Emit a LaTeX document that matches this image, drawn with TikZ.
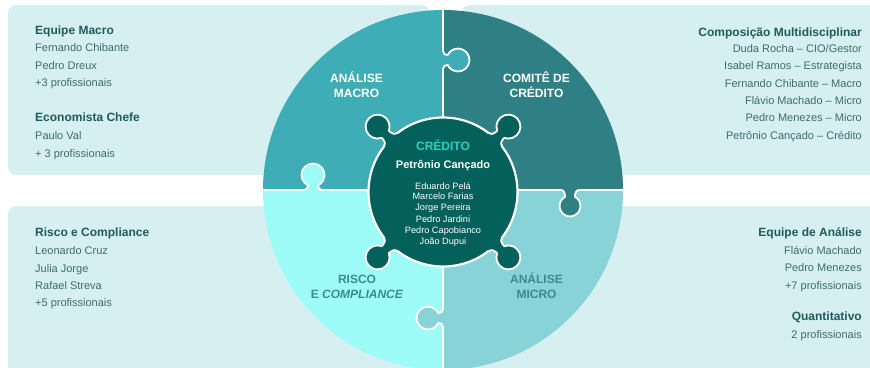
\documentclass[tikz,border=0pt]{standalone}
\usepackage{fontspec}
\setmainfont{Liberation Sans}
\definecolor{panelc}{HTML}{D6F0F2}
\definecolor{macroc}{HTML}{3EADB5}
\definecolor{comitec}{HTML}{2E8085}
\definecolor{riscoc}{HTML}{9EFCF8}
\definecolor{microc}{HTML}{88D3D8}
\definecolor{centerc}{HTML}{03605A}
\definecolor{credc}{HTML}{2ECFC3}
\definecolor{labc}{HTML}{3A8A90}
\definecolor{headc}{HTML}{1F5B5C}
\definecolor{bodyc}{HTML}{3D6C6E}
% knob: #1 x, #2 y (pixel), #3 #4 tangent (canvas), #5 #6 direction (canvas), #7 colour, #8 lobe distance, #9 lobe radius
\newcommand\knob[9]{%
  \begin{scope}[shift={(#1pt,-#2pt)}, x={(#3pt,#4pt)}, y={(#5pt,#6pt)}]
    \pgfmathsetmacro\kq{sqrt(#9*#9-25)}
    \pgfmathsetmacro\kb{#8-\kq}
    \pgfmathsetmacro\kh{\kb/2}
    \pgfmathsetmacro\ka{180+atan(\kq/5)}
    \pgfmathsetmacro\ke{-atan(\kq/5)}
    \fill[#7] (-9,-1.8) -- (-9,0) .. controls (-6,0) and (-5,\kh) .. (-5,\kb)
      arc[start angle=\ka, end angle=\ke, radius=#9]
      .. controls (5,\kh) and (6,0) .. (9,0) -- (9,-1.8) -- cycle;
    \draw[knobline] (-9,0) .. controls (-6,0) and (-5,\kh) .. (-5,\kb)
      arc[start angle=\ka, end angle=\ke, radius=#9]
      .. controls (5,\kh) and (6,0) .. (9,0);
  \end{scope}}
\begin{document}
\begin{tikzpicture}[x=1pt,y=-1pt,
  seam/.style={draw=white, line width=1.8pt},
  knobline/.style={draw=white, line width=1.8pt, line cap=round},
  hd/.style={inner sep=0pt, font=\fontsize{12}{14}\selectfont\bfseries, text=headc},
  bd/.style={inner sep=0pt, font=\fontsize{11}{13}\selectfont, text=bodyc},
  qlab/.style={inner sep=0pt, font=\fontsize{12}{15}\selectfont\bfseries, anchor=base},
  cname/.style={inner sep=0pt, font=\fontsize{9.2}{11}\selectfont, text=white, anchor=base}]
\useasboundingbox (0,0) rectangle (870,367);
% panels
\fill[panelc, rounded corners=8pt] (8,5) rectangle (430,175);
\fill[panelc, rounded corners=8pt] (462,5) rectangle (884,175);
\fill[panelc, rounded corners=8pt] (8,206) rectangle (440,380);
\fill[panelc, rounded corners=8pt] (446,206) rectangle (884,380);
% quadrants
\fill[macroc] (443,190) -- (263,190) arc[start angle=180, end angle=270, radius=180] -- cycle;
\fill[comitec] (443,190) -- (443,10) arc[start angle=270, end angle=360, radius=180] -- cycle;
\fill[microc] (443,190) -- (623,190) arc[start angle=0, end angle=90, radius=180] -- cycle;
\fill[riscoc] (443,190) -- (443,370) arc[start angle=90, end angle=180, radius=180] -- cycle;
% seams
\draw[seam] (263,190) -- (623,190);
\draw[seam] (443,10) -- (443,370);
% quadrant knobs
\knob{443}{60}{0}{-1}{1}{0}{macroc}{15}{11.5}
\knob{313}{190}{1}{0}{0}{1}{riscoc}{15}{11.5}
\knob{570}{190}{1}{0}{0}{-1}{comitec}{16}{10.5}
\knob{443}{318}{0}{-1}{-1}{0}{microc}{15}{11.5}
% centre piece
\fill[centerc] (443,192) circle[radius=74.5];
\draw[draw=white, line width=2.2pt] (443,192) circle[radius=74.5];
\knob{390.32}{139.32}{0.7071}{0.7071}{-0.7071}{0.7071}{centerc}{18}{12}
\knob{495.68}{139.32}{0.7071}{-0.7071}{0.7071}{0.7071}{centerc}{18}{12}
\knob{390.32}{244.68}{-0.7071}{0.7071}{-0.7071}{-0.7071}{centerc}{18}{12}
\knob{495.68}{244.68}{-0.7071}{-0.7071}{0.7071}{-0.7071}{centerc}{18}{12}
% quadrant labels
\node[qlab, text=white] (am1) at (356.5,82.3) {ANÁLISE};
\node[qlab, text=white] (am2) at (356.5,97.3) {MACRO};
\node[qlab, text=white] (cc1) at (536.5,82.3) {COMITÊ DE};
\node[qlab, text=white] (cc2) at (536.5,97.3) {CRÉDITO};
\node[qlab, text=labc] (rc1) at (357,283.3) {RISCO};
\node[qlab, text=labc] (rc2) at (357,298.3) {E \textit{COMPLIANCE}};
\node[qlab, text=labc] (mi1) at (536.5,283.3) {ANÁLISE};
\node[qlab, text=labc] (mi2) at (536.5,298.3) {MICRO};
% centre texts
\node[inner sep=0pt, font=\fontsize{12}{14}\selectfont\bfseries, text=credc, anchor=base] (cred) at (443,150.3) {CRÉDITO};
\node[inner sep=0pt, font=\fontsize{11}{13}\selectfont\bfseries, text=white, anchor=base] (pc) at (443,168) {Petrônio Cançado};
\node[cname] (n1) at (443,189) {Eduardo Pelá};
\node[cname] (n2) at (443,199.5) {Marcelo Farias};
\node[cname] (n3) at (443,210.8) {Jorge Pereira};
\node[cname] (n4) at (443,222.1) {Pedro Jardini};
\node[cname] (n5) at (443,233.4) {Pedro Capobianco};
\node[cname] (n6) at (443,244.2) {João Dupui};
% top-left panel
\node[hd, anchor=base west] (tl1) at (35,34.3) {Equipe Macro};
\node[bd, anchor=base west] (tl2) at (35,51.3) {Fernando Chibante};
\node[bd, anchor=base west] (tl3) at (35,69) {Pedro Dreux};
\node[bd, anchor=base west] (tl4) at (35,86.3) {+3 profissionais};
\node[hd, anchor=base west] (tl5) at (35,121.6) {Economista Chefe};
\node[bd, anchor=base west] (tl6) at (35,139) {Paulo Val};
\node[bd, anchor=base west] (tl7) at (35,157.3) {+ 3 profissionais};
% top-right panel
\node[hd, anchor=base east] (tr1) at (862,36) {Composição Multidisciplinar};
\node[bd, anchor=base east] (tr2) at (862,52.3) {Duda Rocha – CIO/Gestor};
\node[bd, anchor=base east] (tr3) at (862,69.7) {Isabel Ramos – Estrategista};
\node[bd, anchor=base east] (tr4) at (862,87) {Fernando Chibante – Macro};
\node[bd, anchor=base east] (tr5) at (862,104.3) {Flávio Machado – Micro};
\node[bd, anchor=base east] (tr6) at (862,121.7) {Pedro Menezes – Micro};
\node[bd, anchor=base east] (tr7) at (862,139.7) {Petrônio Cançado – Crédito};
% bottom-left panel
\node[hd, anchor=base west] (bl1) at (35,236.6) {Risco e Compliance};
\node[bd, anchor=base west] (bl2) at (35,254.7) {Leonardo Cruz};
\node[bd, anchor=base west] (bl3) at (35,272.3) {Julia Jorge};
\node[bd, anchor=base west] (bl4) at (35,289.7) {Rafael Streva};
\node[bd, anchor=base west] (bl5) at (35,306.7) {+5 profissionais};
% bottom-right panel
\node[hd, anchor=base east] (br1) at (862,236.6) {Equipe de Análise};
\node[bd, anchor=base east] (br2) at (862,254.3) {Flávio Machado};
\node[bd, anchor=base east] (br3) at (862,271.7) {Pedro Menezes};
\node[bd, anchor=base east] (br4) at (862,289) {+7 profissionais};
\node[hd, anchor=base east] (br5) at (862,320.3) {Quantitativo};
\node[bd, anchor=base east] (br6) at (862,338) {2 profissionais};
\end{tikzpicture}
\end{document}
